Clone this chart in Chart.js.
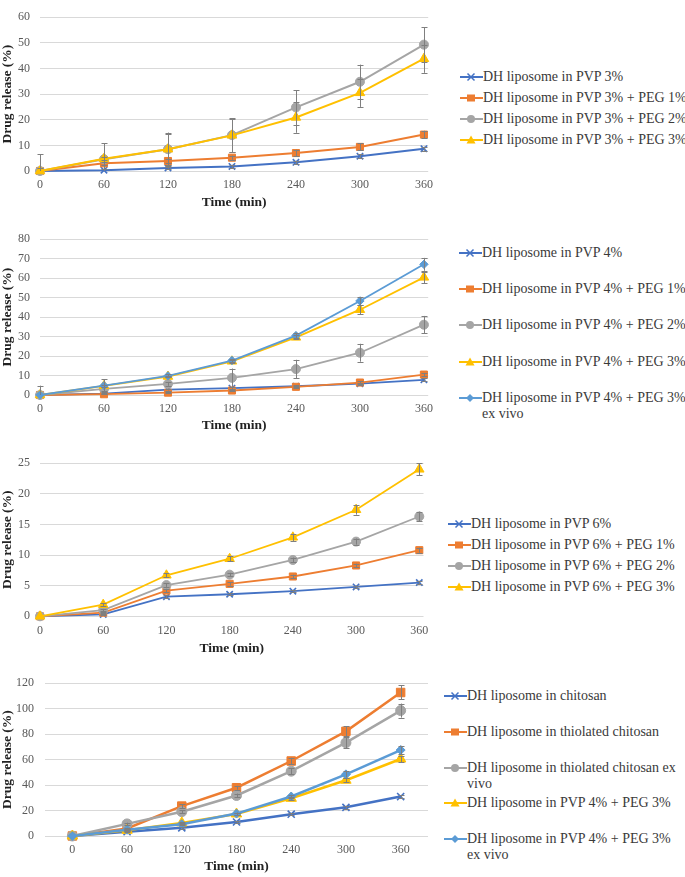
<!DOCTYPE html>
<html>
<head>
<meta charset="utf-8">
<script src="https://cdn.jsdelivr.net/npm/chart.js@4.4.0/dist/chart.umd.min.js"></script>
<style>
  body { margin: 0; background: #fff; width: 685px; height: 877px; position: relative; overflow: hidden;
         font-family: "Liberation Serif", "Times New Roman", Times, "DejaVu Serif", serif; }
  canvas { position: absolute; left: 0; }
  .item { position: absolute; display: flex; align-items: flex-start; font-size: 14px; line-height: 16px; color: #3a3a3a; white-space: pre; }
  .item svg { flex: none; margin-top: 2px; }
</style>
</head>
<body>
<canvas id="c1" width="440" height="213" style="top:0px"></canvas>
<canvas id="c2" width="440" height="214" style="top:222px"></canvas>
<canvas id="c3" width="440" height="213" style="top:446px"></canvas>
<canvas id="c4" width="440" height="212" style="top:665px"></canvas>
<div id="legends"></div>
<script>
const times = [0, 60, 120, 180, 240, 300, 360];
const colors = ['#4472C4', '#ED7D31', '#A5A5A5', '#FFC000', '#5B9BD5'];
const markers = ['crossRot', 'rect', 'circle', 'triangle', 'rectRot'];

// panel 1 - PVP 3%
const pvp3Labels = ['DH liposome in PVP 3%', 'DH liposome in PVP 3% + PEG 1%', 'DH liposome in PVP 3% + PEG 2%', 'DH liposome in PVP 3% + PEG 3%'];
const pvp3 =          [0, 0.3, 1.2, 1.8, 3.4, 5.8, 8.7];
const pvp3Peg1 =      [0, 3.0, 3.9, 5.2, 7.0, 9.4, 14.2];
const pvp3Peg2 =      [0, 4.6, 8.5, 14.0, 24.8, 34.8, 49.3];
const pvp3Peg3 =      [0, 4.8, 8.5, 13.9, 20.9, 30.5, 43.8];
const pvp3Err =       [0, 0.5, 0.5, 0.6, 0.6, 0.7, 0.8];
const pvp3Peg1Err =   [0, 0.5, 0.6, 0.8, 1.3, 1.4, 1.5];
const pvp3Peg2Err =   [1.0, 6.3, 6.5, 6.6, 6.7, 6.7, 6.8];
const pvp3Peg3Err =   [6.5, 0.5, 6.0, 6.3, 6.0, 5.5, 5.5];

// panel 2 - PVP 4%
const pvp4Labels = ['DH liposome in PVP 4%', 'DH liposome in PVP 4% + PEG 1%', 'DH liposome in PVP 4% + PEG 2%', 'DH liposome in PVP 4% + PEG 3%', 'DH liposome in PVP 4% + PEG 3%\nex vivo'];
const pvp4 =          [0, 0.7, 2.8, 3.5, 4.5, 5.8, 7.8];
const pvp4Peg1 =      [0, 0.4, 1.2, 2.3, 4.2, 6.4, 10.5];
const pvp4Peg2 =      [0, 3.1, 5.7, 8.8, 13.3, 21.7, 36.1];
const pvp4Peg3 =      [0, 4.7, 9.5, 17.3, 29.6, 43.8, 60.4];
const pvp4Peg3Ex =    [0, 4.8, 9.8, 17.7, 30.5, 48.3, 67.1];
const pvp4Err =       [0, 0.3, 0.5, 0.5, 0.5, 0.5, 0.8];
const pvp4Peg1Err =   [0, 0.3, 0.3, 0.4, 0.5, 0.6, 0.8];
const pvp4Peg2Err =   [4.8, 1.0, 1.0, 4.8, 4.8, 4.6, 4.5];
const pvp4Peg3Err =   [0, 0.5, 0.5, 0.8, 1.0, 2.4, 3.0];
const pvp4Peg3ExErr = [0, 3.2, 0.8, 0.8, 1.3, 2.0, 3.3];

// panel 3 - PVP 6%
const pvp6Labels = ['DH liposome in PVP 6%', 'DH liposome in PVP 6% + PEG 1%', 'DH liposome in PVP 6% + PEG 2%', 'DH liposome in PVP 6% + PEG 3%'];
const pvp6 =          [0, 0.3, 3.2, 3.6, 4.1, 4.8, 5.5];
const pvp6Peg1 =      [0, 0.6, 4.2, 5.3, 6.5, 8.3, 10.8];
const pvp6Peg2 =      [0, 1.0, 5.1, 6.8, 9.2, 12.2, 16.3];
const pvp6Peg3 =      [0, 1.9, 6.7, 9.4, 12.9, 17.4, 24.0];
const pvp6Err =       [0, 0.1, 0.2, 0.2, 0.2, 0.2, 0.3];
const pvp6Peg1Err =   [0, 0.1, 0.3, 0.3, 0.3, 0.3, 0.4];
const pvp6Peg2Err =   [0, 0.2, 0.3, 0.3, 0.4, 0.5, 0.8];
const pvp6Peg3Err =   [0, 0.2, 0.3, 0.4, 0.6, 0.8, 1.0];

// panel 4 - chitosan comparison
const chitoLabels = ['DH liposome in chitosan', 'DH liposome in thiolated chitosan', 'DH liposome in thiolated chitosan ex\nvivo', 'DH liposome in PVP 4% + PEG 3%', 'DH liposome in PVP 4% + PEG 3%\nex vivo'];
const chitosan =      [0, 3.4, 6.4, 11.0, 17.1, 22.5, 31.0];
const thiol =         [0, 5.9, 23.5, 37.9, 58.9, 82.2, 112.7];
const thiolEx =       [0, 9.5, 19.1, 31.8, 50.9, 73.3, 98.5];
const pegMix =        [0, 4.5, 10.3, 17.3, 29.6, 43.8, 60.5];
const pegMixEx =      [0, 4.9, 9.3, 17.6, 31.0, 48.4, 67.5];
const chitosanErr =   [0, 0.5, 0.8, 1.0, 1.0, 1.0, 1.2];
const thiolErr =      [0, 0.5, 1.5, 1.5, 2.5, 4.0, 5.5];
const thiolExErr =    [0, 1.0, 1.0, 1.5, 2.5, 4.5, 5.5];
const pegMixErr =     [0, 0.5, 0.5, 0.8, 1.0, 1.5, 2.5];
const pegMixExErr =   [0, 0.5, 0.8, 0.8, 1.3, 2.5, 3.3];

const yTicksMax = [60, 80, 25, 120];
const yTicksStep = [10, 10, 5, 20];

const serif = "'Liberation Serif', 'Times New Roman', Times, 'DejaVu Serif', serif";

const errorBars = {
  id: 'errorBars',
  afterDatasetsDraw(chart) {
    const ctx = chart.ctx, ys = chart.scales.y, a = chart.chartArea;
    ctx.save();
    ctx.beginPath();
    ctx.rect(a.left - 10, a.top - 10, a.right - a.left + 20, a.bottom - a.top + 10);
    ctx.clip();
    ctx.strokeStyle = '#7f7f7f';
    ctx.lineWidth = 1;
    chart.data.datasets.forEach((ds, i) => {
      const meta = chart.getDatasetMeta(i);
      meta.data.forEach((pt, j) => {
        const e = ds.err[j];
        if (!e) return;
        const v = ds.vals[j];
        const t = ys.getPixelForValue(v + e), b = ys.getPixelForValue(v - e);
        const x = Math.round(pt.x) + 0.5;
        ctx.beginPath();
        ctx.moveTo(x, t); ctx.lineTo(x, b);
        ctx.moveTo(x - 3, Math.round(t) + 0.5); ctx.lineTo(x + 3, Math.round(t) + 0.5);
        ctx.moveTo(x - 3, Math.round(b) + 0.5); ctx.lineTo(x + 3, Math.round(b) + 0.5);
        ctx.stroke();
      });
    });
    ctx.restore();
  }
};

function makeChart(id, n, series, errs, opt) {
  const datasets = series.map((vals, i) => ({
    vals: vals,
    err: errs[i],
    data: opt.category ? vals : times.map((t, k) => ({ x: t, y: vals[k] })),
    borderColor: colors[i],
    backgroundColor: colors[i],
    borderWidth: opt.lineWidth,
    pointStyle: markers[i],
    pointRadius: opt.radius[i],
    pointBorderWidth: markers[i] === 'crossRot' ? 1.6 : 1,
    pointBackgroundColor: colors[i],
    pointBorderColor: colors[i],
    tension: 0,
    clip: false,
    order: series.length - i
  }));
  const tickFont = { family: serif, size: 12 };
  const titleFont = { family: serif, size: 13.5, weight: 'bold', lineHeight: 1 };
  const xScale = opt.category ? {
    type: 'category', offset: true
  } : {
    type: 'linear', min: 0, max: 364,
    afterBuildTicks: s => { s.ticks = times.map(v => ({ value: v })); }
  };
  Object.assign(xScale, {
    grid: { display: false, drawTicks: false },
    border: { display: false },
    ticks: { font: tickFont, color: '#595959', padding: 7, maxRotation: 0, autoSkip: false },
    title: { display: true, text: 'Time (min)', font: titleFont, color: '#222', padding: { top: 0, bottom: 4 } },
    afterFit: s => { s.height = opt.xh; }
  });
  return new Chart(document.getElementById(id), {
    type: 'line',
    data: { labels: opt.category ? times.map(String) : undefined, datasets },
    options: {
      responsive: false,
      animation: false,
      layout: { padding: { top: opt.pt, right: opt.pr, left: 0, bottom: 0 } },
      plugins: { legend: { display: false }, tooltip: { enabled: false } },
      scales: {
        x: xScale,
        y: {
          min: 0, max: yTicksMax[n],
          grid: { color: '#d9d9d9', drawTicks: false, lineWidth: 1 },
          border: { display: false },
          ticks: { stepSize: yTicksStep[n], font: tickFont, color: '#595959', padding: opt.tp },
          title: { display: true, text: 'Drug release (%)', font: titleFont, color: '#222', padding: { top: 0.5, bottom: 0 } },
          afterFit: s => { s.width = opt.yw; }
        }
      }
    },
    plugins: [errorBars]
  });
}

makeChart('c1', 0, [pvp3, pvp3Peg1, pvp3Peg2, pvp3Peg3], [pvp3Err, pvp3Peg1Err, pvp3Peg2Err, pvp3Peg3Err],
  { pt: 5, pr: 6, xh: 42, yw: 40, tp: 10, lineWidth: 2, radius: [4.5, 5, 4.5, 5.5] });
makeChart('c2', 1, [pvp4, pvp4Peg1, pvp4Peg2, pvp4Peg3, pvp4Peg3Ex], [pvp4Err, pvp4Peg1Err, pvp4Peg2Err, pvp4Peg3Err, pvp4Peg3ExErr],
  { pt: 7.3, pr: 7, xh: 41, yw: 40, tp: 10, lineWidth: 1.8, radius: [4.5, 5, 4.5, 5.5, 4.2] });
makeChart('c3', 2, [pvp6, pvp6Peg1, pvp6Peg2, pvp6Peg3], [pvp6Err, pvp6Peg1Err, pvp6Peg2Err, pvp6Peg3Err],
  { pt: 7, pr: 16.5, xh: 42.7, yw: 40, tp: 10, lineWidth: 1.8, radius: [4.5, 5, 4.5, 5.5] });
makeChart('c4', 3, [chitosan, thiol, thiolEx, pegMix, pegMixEx], [chitosanErr, thiolErr, thiolExErr, pegMixErr, pegMixExErr],
  { category: true, pt: 6.7, pr: 12, xh: 41, yw: 45, tp: 11, lineWidth: 2.5, radius: [5, 6, 5, 6, 4.5] });

// html legends
function markerSvg(style, color) {
  let m = '';
  if (style === 'crossRot') m = `<path d="M7.5 2.5 L14.5 9.5 M14.5 2.5 L7.5 9.5" stroke="${color}" stroke-width="1.5"/>`;
  if (style === 'rect') m = `<rect x="7" y="2.5" width="8" height="7" fill="${color}"/>`;
  if (style === 'circle') m = `<circle cx="11" cy="6" r="4" fill="${color}"/>`;
  if (style === 'triangle') m = `<path d="M11 1.5 L15.5 9.5 L6.5 9.5 Z" fill="${color}"/>`;
  if (style === 'rectRot') m = `<path d="M11 2 L15 6 L11 10 L7 6 Z" fill="${color}"/>`;
  return `<svg width="23" height="12"><line x1="0" y1="6" x2="23" y2="6" stroke="${color}" stroke-width="2"/>${m}</svg>`;
}
const legendSpots = [
  { x: 460, ys: [77, 98.3, 119, 140.3], labels: pvp3Labels },
  { x: 459, ys: [253.3, 289, 325, 361.7, 397.7], labels: pvp4Labels },
  { x: 448, ys: [524, 545, 565.7, 587.3], labels: pvp6Labels },
  { x: 444, ys: [695.7, 731.7, 767.7, 803.3, 839.3], labels: chitoLabels }
];
const lg = document.getElementById('legends');
legendSpots.forEach(spot => {
  spot.labels.forEach((txt, i) => {
    const d = document.createElement('div');
    d.className = 'item';
    d.style.left = spot.x + 'px';
    d.style.top = (spot.ys[i] - 8) + 'px';
    d.innerHTML = markerSvg(markers[i], colors[i]);
    const s = document.createElement('span');
    s.textContent = txt;
    d.appendChild(s);
    lg.appendChild(d);
  });
});
</script>
</body>
</html>
